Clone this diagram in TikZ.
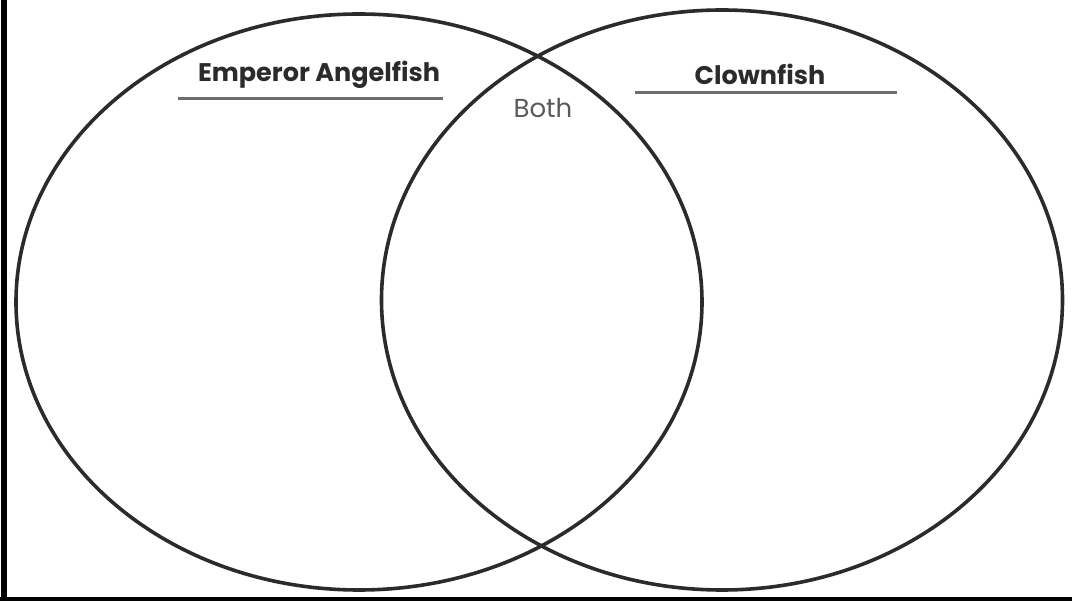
\documentclass[tikz,border=0pt]{standalone}
\usepackage{fontspec}
\setmainfont{Poppins}
\usepackage{xcolor}
\usepackage{tikz}
\usetikzlibrary{shapes, positioning}

\definecolor{ink}{HTML}{2B2B2B}
\definecolor{soft}{HTML}{5A5A5A}
\definecolor{rulegray}{HTML}{6E6E6E}

\begin{document}
\begin{tikzpicture}[
  x=1pt, y=-1pt,
  set/.style={draw=ink, ellipse, line width=3.6pt, inner sep=0pt},
  title/.style={font=\fontsize{25.5}{30}\selectfont\bfseries, text=ink, inner sep=0pt},
  both/.style={font=\fontsize{26}{30}\selectfont, text=soft, inner sep=0pt},
  uline/.style={draw=rulegray, line width=3pt},
  frame/.style={draw=black, line width=6pt}
]
\useasboundingbox (0,0) rectangle (1072,601);

% Sets
\node[set, minimum width=686pt, minimum height=576pt] (angel) at (359,302) {};
\node[set, minimum width=681pt, minimum height=580pt] (clown) at (722,300) {};

% Labels
\node[title] (angelname) at (319,75) {Emperor Angelfish};
\node[title] (clownname) at (760,74) {Clownfish};
\node[both] (both) at (543,108) {Both};

% Underlines
\draw[uline] (178,99) -- (443,99);
\draw[uline] (635,93) -- (897,93);

% Page edges
\draw[frame] (4,0) -- (4,601);
\draw[frame, line width=4pt] (0,599) -- (1072,599);

\end{tikzpicture}
\end{document}
